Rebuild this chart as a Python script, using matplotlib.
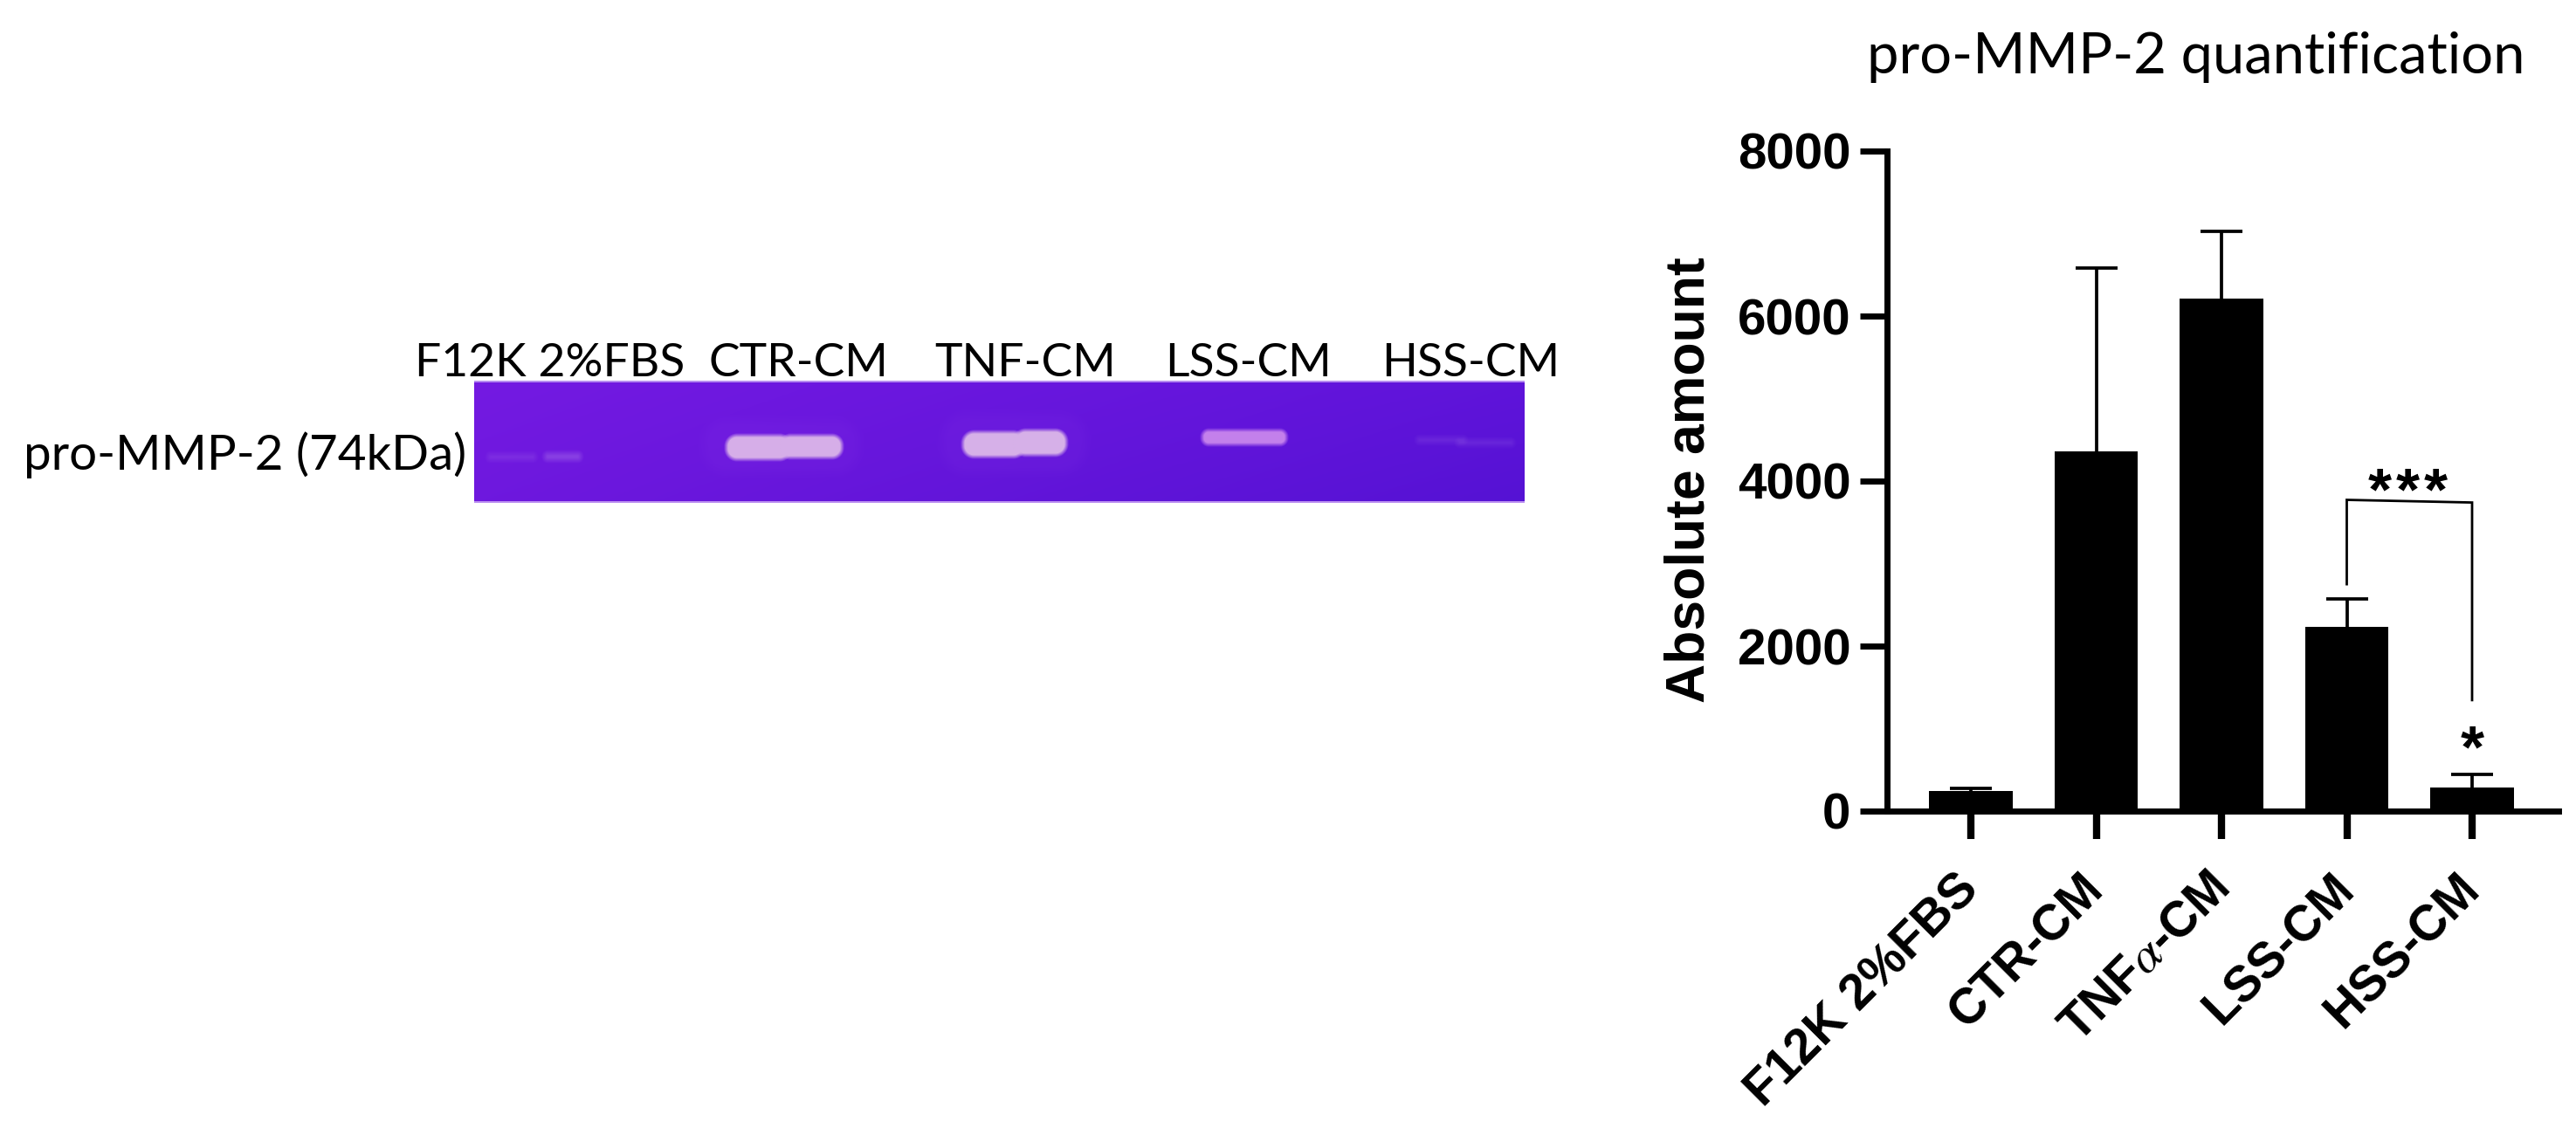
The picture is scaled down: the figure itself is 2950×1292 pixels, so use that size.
import numpy as np
import matplotlib
matplotlib.use("Agg")
import matplotlib.pyplot as plt
from matplotlib.transforms import ScaledTranslation

# valores
groups = ["F12K 2%FBS", "CTR-CM", r"TNF$\alpha$-CM", "LSS-CM", "HSS-CM"]
means = [240, 4355, 6215, 2235, 290]
err_up = [30, 2225, 810, 340, 158]
y_ticks = [0, 2000, 4000, 6000, 8000]
bracket_x = [3, 3, 4, 4]
bracket_y = [2750, 3772, 3740, 1345]
star_x = [3.261, 3.484, 3.707, 4.0]
star_y = [3660, 3660, 3660, 540]

gel_labels = ["F12K 2%FBS", "CTR-CM", "TNF-CM", "LSS-CM", "HSS-CM"]
gel_label_x = [475, 812, 1070, 1334, 1582]

# bandas del gel: x0, x1, y0, y1, fuerza, color
gel_bands = [
    (15, 70, 83, 91, 0.14, "#c9a0f0"),
    (80, 122, 82, 91, 0.28, "#c9a0f0"),
    (262, 440, 45, 105, 0.07, "#a050f0"),
    (288, 362, 62, 90, 1.0, "#d6aee8"),
    (350, 421, 62, 88, 1.0, "#d6aee8"),
    (535, 700, 38, 105, 0.07, "#a050f0"),
    (559, 630, 58, 87, 1.0, "#d6b0e8"),
    (618, 678, 56, 85, 1.0, "#d6b0e8"),
    (833, 930, 56, 73, 0.9, "#cf8cee"),
    (1079, 1135, 64, 71, 0.13, "#c9a0f0"),
    (1125, 1190, 67, 74, 0.13, "#c9a0f0"),
]

W, H = 2950, 1292


def fx(px):
    return px / W


def fy(py):
    return 1 - py / H


def hex_rgb(c):
    return np.array(matplotlib.colors.to_rgb(c))


def make_gel(w, h):
    yy, xx = np.mgrid[0:h, 0:w]
    u = (xx / w)[..., None]
    v = (yy / h)[..., None]
    tl, tr = hex_rgb("#741ae2"), hex_rgb("#5f14da")
    bl, br = hex_rgb("#6e18de"), hex_rgb("#5512d4")
    img = (1 - u) * (1 - v) * tl + u * (1 - v) * tr + (1 - u) * v * bl + u * v * br
    for x0, x1, y0, y1, a, col in gel_bands:
        cx, cy = (x0 + x1) / 2, (y0 + y1) / 2
        hw, hh = (x1 - x0) / 2, (y1 - y0) / 2
        r = min(hw, hh) * 0.9
        qx = np.abs(xx - cx) - (hw - r)
        qy = np.abs(yy - cy) - (hh - r)
        d = np.hypot(np.maximum(qx, 0), np.maximum(qy, 0)) + np.minimum(np.maximum(qx, qy), 0) - r
        soft = 14 if a < 0.1 else 7 if a < 0.5 else 5
        alpha = (a * np.clip(0.5 - d / soft, 0, 1))[..., None]
        img = img * (1 - alpha) + hex_rgb(col) * alpha
    img[:2] = hex_rgb("#b68cf0")
    img[-2:] = hex_rgb("#bb90f0")
    return img


fig = plt.figure(figsize=(W / 100, H / 100), dpi=100, facecolor="white")
plt.rcParams["mathtext.fontset"] = "stix"

# gel
gel_ax = fig.add_axes([fx(543), fy(576), fx(1746 - 543), (576 - 436) / H])
gel_ax.imshow(make_gel(1203, 140), aspect="auto", interpolation="bilinear")
gel_ax.axis("off")

for name, x in zip(gel_labels, gel_label_x):
    fig.text(fx(x), fy(431), name, family="Lato", fontsize=38.5, color="black", ha="left", va="baseline")
fig.text(fx(27), fy(538), "pro-MMP-2 (74kDa)", family="Lato", fontsize=40.7, color="black", ha="left", va="baseline")
fig.text(fx(2138), fy(84), "pro-MMP-2 quantification", family="Lato", fontsize=46.8, color="black", ha="left", va="baseline")

# barras
ax = fig.add_axes([fx(2161), fy(929), fx(2930 - 2161), (929 - 173) / H])
x = np.arange(len(groups))
_, caps, _ = ax.errorbar(x, means, yerr=[np.zeros(len(means)), err_up], fmt="none", ecolor="black",
                         elinewidth=2.7, capsize=17, capthick=2.7, zorder=2)
caps[0].set_visible(False)
ax.bar(x, means, width=0.665, color="black", zorder=3)
ax.plot(bracket_x, bracket_y, color="black", lw=2, zorder=2, solid_joinstyle="miter")

ax.set_xlim((2161 - 2257) / 143.5, (2930 - 2257) / 143.5)
ax.set_ylim(0, 8000)
ax.set_facecolor("none")
for s in ["top", "right"]:
    ax.spines[s].set_visible(False)
for s in ["left", "bottom"]:
    ax.spines[s].set_linewidth(5)
ax.set_yticks(y_ticks)
ax.set_yticklabels([str(t) for t in y_ticks], family="Liberation Sans", weight="bold", fontsize=42)
ax.tick_params(axis="y", length=22, width=5, pad=8)
ax.tick_params(axis="x", length=23, width=6, pad=43)
ax.set_xticks(x)
ax.set_xticklabels(groups, family="Liberation Sans", weight="bold", fontsize=41,
                   rotation=45, ha="right", va="baseline", rotation_mode="anchor")
shift = ScaledTranslation(11 / 100, 0, fig.dpi_scale_trans)
for lab in ax.get_xticklabels():
    lab.set_transform(lab.get_transform() + shift)
ax.set_ylabel("Absolute amount", family="Liberation Sans", weight="bold", fontsize=45)
ax.yaxis.set_label_coords(fx(1952), 0.5, transform=fig.transFigure)
ax.yaxis.label.set_va("baseline")
ax.yaxis.label.set_y(fy(550))

for sx, sy in zip(star_x, star_y):
    ax.text(sx, sy, "*", family="Liberation Sans", weight="bold", fontsize=50, ha="center", va="baseline")

fig.savefig("out.png", dpi=100, facecolor="white")
